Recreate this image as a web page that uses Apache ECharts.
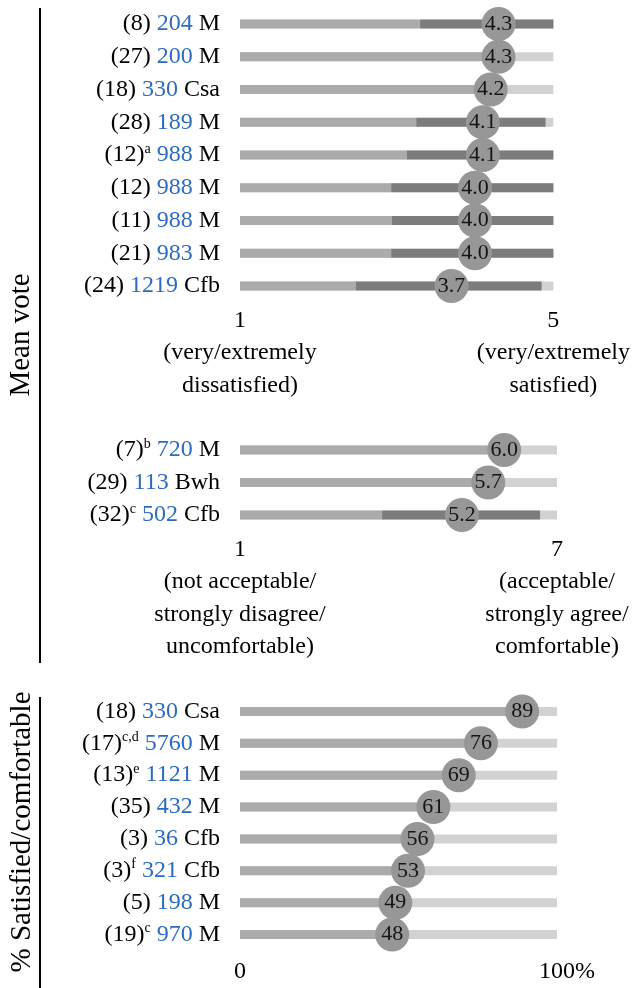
<!DOCTYPE html>
<html><head><meta charset="utf-8">
<script src="https://cdn.jsdelivr.net/npm/echarts@6/dist/echarts.min.js"></script>
<style>html,body{margin:0;padding:0;background:#fff}#c{width:633px;height:988px}</style>
</head><body><div id="c"></div>
<script>
// ---- Panel 1: mean vote, 1–5 scale ----
const p1Ref = ['8','27','18','28','12','12','11','21','24'];
const p1Sup = ['','','','','a','','','',''];
const p1N = ['204','200','330','189','988','988','988','983','1219'];
const p1Climate = ['M','M','Csa','M','M','M','M','M','Cfb'];
const p1Mean = [4.3,4.3,4.2,4.1,4.1,4.0,4.0,4.0,3.7];
const p1Low = [3.3,null,null,3.25,3.13,2.93,2.94,2.93,2.48];
const p1High = [5.0,null,null,4.9,5.0,5.0,5.0,5.0,4.85];
const p1Scale = [1,5];
const p1ScaleText = ['1\n(very/extremely\ndissatisfied)','5\n(very/extremely\nsatisfied)'];

// ---- Panel 2: mean vote, 1–7 scale ----
const p2Ref = ['7','29','32'];
const p2Sup = ['b','','c'];
const p2N = ['720','113','502'];
const p2Climate = ['M','Bwh','Cfb'];
const p2Mean = [6.0,5.7,5.2];
const p2Low = [null,null,3.69];
const p2High = [null,null,6.68];
const p2Scale = [1,7];
const p2ScaleText = ['1\n(not acceptable/\nstrongly disagree/\nuncomfortable)','7\n(acceptable/\nstrongly agree/\ncomfortable)'];

// ---- Panel 3: % satisfied/comfortable ----
const p3Ref = ['18','17','13','35','3','3','5','19'];
const p3Sup = ['','c,d','e','','','f','','c'];
const p3N = ['330','5760','1121','432','36','321','198','970'];
const p3Climate = ['Csa','M','M','M','Cfb','Cfb','M','M'];
const p3Pct = [89,76,69,61,56,53,49,48];
const p3Scale = [0,100];
const p3ScaleText = ['0','{r|100%}'];

const FONT = 'Liberation Serif';
const C_LIGHT = '#d2d2d2', C_MED = '#ababab', C_DARK = '#7c7c7c', C_DOT = '#979797';
const BLUE = '#2b6cc0';

function rowLabels(ref, sup, n, clim){
  return ref.map((r,i)=>'(' + r + ')' + (sup[i] ? '{s|' + sup[i] + '}' : '') + ' {b|' + n[i] + '} ' + clim[i]);
}

function yAxisFor(gi, labels){
  return {
    type:'category', gridIndex:gi, inverse:true, data:labels,
    axisLine:{show:false}, axisTick:{show:false}, splitLine:{show:false},
    axisLabel:{
      interval:0, margin:20, color:'#000', fontFamily:FONT, fontSize:24,
      formatter:(v)=>v,
      rich:{
        b:{color:BLUE, fontFamily:FONT, fontSize:24},
        s:{color:'#000', fontFamily:FONT, fontSize:14, verticalAlign:'top', padding:[0,0,12,0]}
      }
    }
  };
}

function xAxisFor(gi, scale, texts, interval, margin){
  return {
    type:'value', gridIndex:gi, min:scale[0], max:scale[1], interval:interval,
    axisLine:{show:false}, axisTick:{show:false}, splitLine:{show:false},
    axisLabel:{
      showMinLabel:true, showMaxLabel:true, margin:margin,
      color:'#000', fontFamily:FONT, fontSize:24, lineHeight:32.5,
      formatter:(v)=> v===scale[0] ? texts[0] : (v===scale[1] ? texts[1] : ''),
      rich:{ r:{fontFamily:FONT, fontSize:24, color:'#000', padding:[0,0,0,20]} }
    }
  };
}

function barSeries(gi, minV, maxV, mean, low, high){
  const data = mean.map((m,i)=>[i, minV, low[i]==null ? m : low[i], high[i]==null ? m : high[i], maxV]);
  return {
    type:'custom', xAxisIndex:gi, yAxisIndex:gi,
    encode:{x:[1,2,3,4], y:0},
    data:data, z:2, silent:true,
    renderItem:(params, api)=>{
      const i = api.value(0);
      const pMin = api.coord([api.value(1), i]);
      const pLow = api.coord([api.value(2), i]);
      const pHigh = api.coord([api.value(3), i]);
      const pMax = api.coord([api.value(4), i]);
      const h = 9, y = pMin[1] - h/2;
      return {type:'group', children:[
        {type:'rect', shape:{x:pMin[0], y:y, width:pMax[0]-pMin[0], height:h}, style:{fill:C_LIGHT}},
        {type:'rect', shape:{x:pMin[0], y:y, width:pLow[0]-pMin[0], height:h}, style:{fill:C_MED}},
        {type:'rect', shape:{x:pLow[0], y:y, width:pHigh[0]-pLow[0], height:h}, style:{fill:C_DARK}}
      ]};
    }
  };
}

function dotSeries(gi, vals, digits){
  return {
    type:'scatter', xAxisIndex:gi, yAxisIndex:gi, z:5, silent:true,
    symbol:'circle', symbolSize:34,
    itemStyle:{color:C_DOT, opacity:1},
    data: vals.map((v,i)=>[v,i]),
    label:{show:true, position:'inside', fontFamily:FONT, fontSize:22, color:'#151515',
      formatter:(p)=>p.value[0].toFixed(digits)}
  };
}

const chart = echarts.init(document.getElementById('c'), null, {renderer:'canvas'});
chart.setOption({
  backgroundColor:'#fff',
  animation:false,
  grid:[
    {left:240, width:317, top:7.6, height:294.75},
    {left:240, width:317, top:433.75, height:97.5},
    {left:240, width:317, top:695.5, height:261}
  ],
  xAxis:[
    xAxisFor(0, p1Scale, p1ScaleText, 1, 2),
    xAxisFor(1, p2Scale, p2ScaleText, 1, 2),
    xAxisFor(2, p3Scale, p3ScaleText, 100, 5)
  ],
  yAxis:[
    yAxisFor(0, rowLabels(p1Ref, p1Sup, p1N, p1Climate)),
    yAxisFor(1, rowLabels(p2Ref, p2Sup, p2N, p2Climate)),
    yAxisFor(2, rowLabels(p3Ref, p3Sup, p3N, p3Climate))
  ],
  series:[
    barSeries(0, p1Scale[0], p1Scale[1], p1Mean, p1Low, p1High),
    dotSeries(0, p1Mean, 1),
    barSeries(1, p2Scale[0], p2Scale[1], p2Mean, p2Low, p2High),
    dotSeries(1, p2Mean, 1),
    barSeries(2, p3Scale[0], p3Scale[1], p3Pct, p3Pct.map(()=>null), p3Pct.map(()=>null)),
    dotSeries(2, p3Pct, 0)
  ],
  graphic:[
    {type:'line', shape:{x1:40, y1:8, x2:40, y2:663}, style:{stroke:'#000', lineWidth:2}},
    {type:'line', shape:{x1:40, y1:697, x2:40, y2:988}, style:{stroke:'#000', lineWidth:2}},
    {type:'text', x:21, y:335, rotation:Math.PI/2,
      style:{text:'Mean vote', font:'29px "Liberation Serif"', fill:'#000', align:'center', verticalAlign:'middle'}},
    {type:'text', x:22, y:832, rotation:Math.PI/2,
      style:{text:'% Satisfied/comfortable', font:'29px "Liberation Serif"', fill:'#000', align:'center', verticalAlign:'middle'}}
  ]
});
</script>
</body></html>
